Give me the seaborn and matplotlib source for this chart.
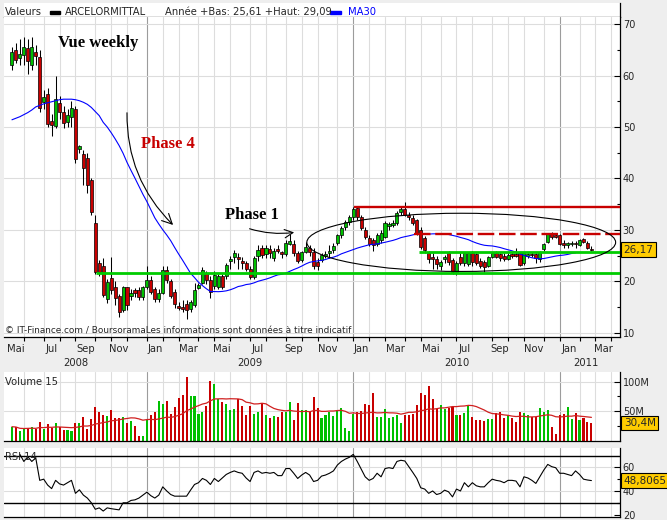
import numpy as np
import pandas as pd
import matplotlib
matplotlib.use("Agg")
import matplotlib.pyplot as plt
import matplotlib.transforms as mtransforms
from matplotlib.patches import Ellipse, Rectangle
import seaborn as sns

# weekly bars (ARCELORMITTAL, first bar = week of 12 May 2008)
first_week = "2008-05-12"
stock_name = "ARCELORMITTAL"
year_low, year_high = 25.61, 29.09

opens = [62.0, 65.0, 63.4, 64.0, 65.3, 62.0, 64.6, 63.6, 54.9, 56.4,
         51.2, 50.2, 54.7, 52.9, 51.0, 51.9, 53.5, 45.7, 44.8, 44.0,
         39.7, 31.4, 23.6, 23.0, 16.6, 20.7, 18.9, 17.2, 14.5, 18.9,
         17.2, 18.3, 18.3, 17.0, 18.9, 20.3, 18.5, 16.6, 17.8, 22.2,
         20.1, 18.0, 15.3, 15.0, 15.6, 14.7, 15.4, 18.8, 19.7, 21.6,
         20.3, 19.1, 19.0, 21.0, 21.1, 24.0, 24.8, 24.8, 24.0, 23.6,
         22.4, 20.9, 25.0, 26.5, 25.4, 26.4, 24.6, 26.3, 25.7, 25.3,
         27.3, 27.3, 25.5, 24.1, 25.7, 26.5, 25.7, 23.8, 24.2, 25.0,
         25.5, 26.1, 27.5, 29.0, 30.6, 31.6, 32.5, 34.3, 32.5, 30.0,
         28.4, 28.0, 27.3, 28.0, 28.6, 30.8, 31.0, 31.4, 33.5, 34.0,
         33.0, 32.3, 31.9, 30.0, 28.4, 25.5, 24.8, 24.4, 23.0, 24.4,
         25.5, 24.2, 21.8, 24.8, 23.6, 23.4, 25.5, 25.3, 24.0, 23.8,
         23.0, 24.8, 25.5, 25.3, 25.0, 24.4, 25.4, 25.4, 25.5, 23.6,
         25.0, 25.4, 25.3, 24.4, 26.3, 27.7, 29.2, 29.0, 29.0, 27.5,
         27.1, 27.2, 27.4, 27.1, 28.2, 27.5, 26.4]
highs = [65.5, 66.3, 67.0, 67.5, 67.0, 67.5, 66.0, 65.0, 57.2, 57.5,
         52.5, 60.0, 56.0, 54.0, 53.5, 55.0, 54.0, 46.6, 45.5, 45.0,
         40.0, 33.0, 24.2, 24.5, 20.5, 24.8, 20.0, 17.5, 19.2, 19.0,
         18.5, 18.8, 19.0, 19.2, 23.0, 21.0, 19.0, 18.5, 23.0, 23.0,
         20.5, 18.5, 16.0, 16.5, 16.5, 16.5, 19.7, 19.8, 22.8, 22.0,
         21.0, 22.0, 21.5, 21.5, 23.5, 25.0, 26.2, 25.5, 24.8, 24.0,
         23.0, 25.0, 27.0, 27.0, 27.0, 27.0, 26.5, 27.0, 26.0, 28.0,
         29.2, 28.0, 26.0, 26.0, 27.7, 27.0, 26.5, 24.5, 25.5, 26.0,
         27.0, 27.5, 29.3, 30.8, 32.0, 33.0, 34.5, 34.5, 33.0, 30.5,
         29.0, 28.5, 29.5, 30.0, 31.8, 31.6, 32.0, 33.6, 34.5, 35.4,
         33.5, 33.0, 32.2, 30.5, 28.8, 26.0, 25.5, 25.0, 24.2, 25.2,
         26.0, 24.5, 24.0, 25.5, 25.8, 25.8, 26.0, 25.6, 24.5, 24.2,
         25.0, 25.8, 26.0, 25.6, 25.5, 25.6, 25.8, 26.5, 25.8, 25.8,
         25.6, 25.8, 25.6, 26.0, 27.5, 29.5, 29.7, 29.3, 29.3, 28.0,
         27.7, 27.8, 27.8, 28.3, 28.5, 27.8, 26.8]
lows = [61.0, 62.5, 62.0, 62.0, 60.3, 61.0, 62.0, 53.0, 53.5, 50.0,
        48.3, 49.8, 51.5, 49.8, 50.0, 50.0, 43.0, 45.0, 38.7, 37.2,
        33.0, 21.5, 21.0, 17.0, 15.8, 17.5, 15.4, 13.1, 14.0, 14.5,
        16.5, 17.0, 16.5, 16.5, 18.5, 17.5, 16.0, 16.0, 17.5, 19.8,
        16.8, 14.9, 14.5, 14.0, 12.7, 14.0, 15.0, 18.5, 19.5, 19.5,
        16.8, 18.5, 18.5, 18.5, 20.5, 22.5, 23.5, 22.5, 22.5, 22.0,
        20.5, 20.5, 24.0, 24.5, 24.5, 24.5, 24.0, 25.5, 24.5, 25.0,
        27.0, 25.0, 23.5, 23.8, 25.5, 25.0, 22.5, 22.2, 23.8, 24.5,
        24.5, 25.5, 27.0, 28.5, 30.0, 31.0, 32.0, 32.0, 30.0, 28.2,
        26.8, 26.0, 26.8, 27.5, 28.4, 30.0, 30.5, 31.0, 33.0, 32.8,
        32.0, 31.0, 29.0, 26.3, 25.6, 23.5, 22.5, 22.5, 22.2, 23.5,
        23.2, 21.5, 21.2, 23.2, 23.0, 23.0, 23.0, 23.2, 22.6, 21.8,
        22.8, 24.5, 24.5, 24.0, 24.0, 24.2, 24.6, 24.8, 23.0, 23.2,
        24.5, 24.8, 23.5, 23.8, 26.0, 27.5, 28.3, 28.4, 27.0, 26.5,
        26.5, 26.8, 26.5, 26.8, 27.4, 26.3, 26.0]
closes = [64.5, 63.0, 64.2, 65.5, 62.8, 65.5, 63.8, 53.7, 55.8, 50.6,
          50.4, 55.4, 52.9, 50.8, 52.3, 53.7, 43.8, 46.3, 42.0, 38.7,
          33.5, 21.8, 21.8, 17.4, 19.9, 18.3, 16.8, 14.1, 18.9, 15.4,
          17.8, 17.8, 17.0, 18.9, 20.3, 18.0, 16.6, 17.8, 22.2, 20.3,
          17.2, 15.6, 14.9, 14.6, 14.5, 16.0, 18.3, 19.3, 22.2, 20.3,
          18.0, 21.2, 21.0, 19.0, 23.2, 24.4, 25.5, 24.4, 23.5, 22.4,
          20.9, 24.6, 26.1, 25.1, 26.5, 25.6, 25.9, 26.0, 25.3, 27.5,
          27.8, 25.5, 24.0, 25.7, 26.7, 25.8, 23.0, 23.0, 25.1, 25.3,
          26.0, 26.9, 29.0, 30.4, 31.6, 32.5, 34.1, 32.5, 30.4, 28.6,
          27.3, 27.0, 29.0, 29.4, 31.4, 31.2, 31.4, 33.3, 34.1, 33.0,
          32.6, 31.4, 29.4, 26.7, 26.1, 24.4, 24.4, 23.4, 23.8, 24.8,
          23.8, 21.8, 23.6, 23.5, 25.5, 25.5, 23.8, 23.6, 23.0, 22.9,
          24.8, 25.5, 24.8, 24.5, 24.4, 25.2, 25.0, 25.0, 23.2, 25.5,
          25.3, 25.1, 24.6, 25.7, 27.3, 29.2, 28.6, 28.7, 27.3, 27.1,
          27.5, 27.5, 27.2, 28.1, 27.7, 26.5, 26.17]
# volume in millions
volumes = [24, 23, 17, 20, 22, 23, 20, 32.5, 21, 28.5,
           22, 30, 23, 19, 18, 17, 30, 31, 41, 21,
           37, 57, 48, 44, 42, 52, 38, 39, 40, 31,
           33, 26, 8.5, 8.5, 36, 43, 49, 68, 62, 68,
           46, 57, 73, 77, 108, 75, 75, 46, 49, 59,
           101, 96, 70, 66, 62, 52, 54, 71, 59, 44,
           59, 46, 49, 64, 44, 39, 42, 40, 48, 49,
           65, 36, 64, 52, 52, 48, 74, 56, 38, 44,
           48, 42, 52, 55, 22, 17, 46, 49, 51, 63,
           60, 80, 41, 41, 53, 38, 41, 44, 31, 43,
           43, 46, 61, 80, 77, 92, 71, 54, 60, 54,
           55, 57, 43, 43, 47, 59, 40, 36, 36, 34,
           37, 37, 47, 49, 38, 44, 38, 32, 49, 47,
           44, 40, 40, 55, 49, 52, 24, 11, 43, 46,
           57, 37, 47, 35, 38, 32, 30.4]
# MA30 as drawn for the first weeks (history before the window is not shown)
ma30_head = [51.4, 51.7, 52.0, 52.4, 52.8, 53.3, 53.9, 54.2, 54.5, 54.7,
             54.9, 55.1, 55.3, 55.4, 55.4, 55.4, 55.3, 55.1, 54.8, 54.4,
             53.8, 53.0, 52.2, 50.9, 50.0, 48.9, 47.7, 46.4, 44.9]
ma30_last_week = 142
# RSI 14, starting at week 2
rsi_start = 2
rsi_values = [71, 65, 69, 65, 68, 49, 50, 45, 42, 49,
              46, 45, 47, 49, 38, 41, 36.5, 34, 30, 24.5,
              25.7, 23, 25.7, 25, 24.5, 24, 30, 30, 32, 32.5,
              34, 36.5, 39, 36, 34, 36.5, 43.5, 40, 37, 35.6,
              35.6, 35.6, 35.6, 40.7, 45.5, 47, 50.6, 49, 45.5, 50.6,
              48, 51, 54, 55.7, 57, 55.7, 55, 51, 48, 55.7,
              57, 55, 55.7, 55, 55.7, 53, 53, 59, 59, 55,
              50.6, 53.5, 55.7, 53.5, 48, 49, 52.6, 53.5, 55, 57,
              62, 65, 67, 68.5, 71, 65, 58.6, 52, 49, 50.6,
              55, 52, 59, 59.7, 59, 65, 66, 65.4, 60.6, 55.7,
              50.6, 42.7, 41.6, 38, 40, 37, 38, 40.7, 39.3, 35,
              41.6, 40, 47, 43.5, 47, 44.4, 43.5, 43.5, 47, 50,
              49, 48.4, 47, 49, 49, 48.4, 43.5, 52, 51, 49,
              46.4, 52, 57.7, 62.5, 60.6, 59.7, 55, 55, 54, 53,
              57, 54, 50, 49.3, 48.8065]

# drawn levels
support_low, support_low_from = 21.7, 21.2
support_high, support_high_from = 25.8, 102.5
resist_high, resist_high_from = 34.55, 86.1
resist_low, resist_low_from = 29.3, 101.3

df = pd.DataFrame({"open": opens, "high": highs, "low": lows,
                   "close": closes, "volume": volumes})
df["week"] = np.arange(len(df))
df["date"] = pd.date_range(first_week, periods=len(df), freq="7D")
df["up"] = df["close"] >= df["open"]
ma = df["close"].rolling(30).mean()
ma.iloc[:len(ma30_head)] = ma30_head
df["ma30"] = ma
df["vol_ma"] = df["volume"].rolling(15, min_periods=1).mean()
df["rsi"] = np.nan
df.loc[rsi_start:, "rsi"] = rsi_values

GREEN = "#00c000"
RED = "#c80000"
LINE_GREEN = "#00cc00"
GRID = "#dddddd"
colors = np.where(df["up"], GREEN, RED)

sns.set_theme(style="white")
plt.rcParams["font.family"] = ["DejaVu Sans"]

W, H = 667, 520


def panel(top, bottom, left=4, right=620):
    return [left / W, 1 - bottom / H, (right - left) / W, (bottom - top) / H]


fig = plt.figure(figsize=(W / 100, H / 100), dpi=100, facecolor="#eeeeee")
ax_head = fig.add_axes(panel(3, 17))
ax = fig.add_axes(panel(17, 337))
ax_vol = fig.add_axes(panel(372, 441))
ax_rsi = fig.add_axes(panel(448, 517))

XLIM = (-2.0, 153.2)
for a in (ax_head, ax, ax_vol, ax_rsi):
    a.set_facecolor("white")
    for s in ("top", "left"):
        a.spines[s].set_visible(False)
    for s in ("bottom", "right"):
        a.spines[s].set_color("black")
        a.spines[s].set_linewidth(0.9)
for a in (ax, ax_vol, ax_rsi):
    a.set_xlim(*XLIM)

# month grid: first weekly bar of every month
d0 = df["date"].iloc[0]
months = pd.date_range("2008-05-01", "2011-05-01", freq="MS")
month_pos = np.ceil(np.asarray((months - d0).days) / 7)
in_view = (month_pos >= 0) & (month_pos <= XLIM[1])
for a in (ax, ax_vol, ax_rsi):
    for m, p in zip(months[in_view], month_pos[in_view]):
        a.axvline(p, color="#9c9c9c" if m.month == 1 else GRID, lw=0.8, zorder=0)

# ---- price panel ----
for v in range(10, 71, 10):
    ax.axhline(v, color=GRID, lw=0.8, zorder=0)
ax.vlines(df["week"], df["low"], df["high"], color="black", lw=0.75, zorder=3)
body_low = df[["open", "close"]].min(axis=1)
body_h = (df["close"] - df["open"]).abs().clip(lower=0.2)
ax.bar(df["week"], body_h, bottom=body_low, width=0.78, color=colors,
       edgecolor="black", linewidth=0.5, zorder=4)
sns.lineplot(data=df[df["week"] <= ma30_last_week], x="week", y="ma30",
             color="#0000ff", lw=0.8, ax=ax, zorder=5)

ax.hlines(support_low, support_low_from, XLIM[1], color=LINE_GREEN, lw=2.0, zorder=6)
ax.hlines(support_high, support_high_from, XLIM[1], color=LINE_GREEN, lw=2.0, zorder=6)
ax.hlines(resist_high, resist_high_from, XLIM[1], color=RED, lw=1.7, zorder=6)
ax.hlines(resist_low, resist_low_from, XLIM[1], color=RED, lw=1.7,
          linestyles=(0, (7, 2)), zorder=6)
ax.add_patch(Ellipse((113.2, 27.6), 77.8, 11.3, fill=False, ec="black", lw=0.8, zorder=7))

serif = dict(family="Liberation Serif", weight="bold", fontsize=12)
ax.text(11.6, 65.6, "Vue weekly", color="black", va="baseline", **serif)
ax.text(32.5, 46.0, "Phase 4", color="#c80000", va="baseline", **serif)
ax.text(53.6, 32.1, "Phase 1", color="black", va="baseline", **serif)
ax.annotate("", xy=(41.1, 30.6), xytext=(29.0, 53.3),
            arrowprops=dict(arrowstyle="->,head_length=0.6,head_width=0.3",
                            connectionstyle="arc3,rad=0.22", color="black", lw=0.8))
ax.annotate("", xy=(71.8, 29.6), xytext=(59.2, 30.4),
            arrowprops=dict(arrowstyle="->,head_length=0.5,head_width=0.25",
                            connectionstyle="arc3,rad=0.12", color="black", lw=0.8))
ax.text(0.002, 0.012, "© IT-Finance.com / BoursoramaLes informations sont données à titre indicatif",
        transform=ax.transAxes, fontsize=6.4, va="baseline", ha="left", zorder=8)

ax.set_ylim(9.22, 71.36)
ax.set_xlabel("")
ax.set_ylabel("")
ax.yaxis.tick_right()
ax.set_yticks(range(10, 71, 10))
ax.set_yticks(range(15, 71, 10), minor=True)
ax.tick_params(axis="y", which="both", direction="in", right=True, left=False,
               labelsize=7, pad=2, width=0.8, color="black")
ax.tick_params(axis="y", which="major", length=4)
ax.tick_params(axis="y", which="minor", length=2.5)
ax.set_xticks(month_pos[in_view])
ax.set_xticklabels([])
ax.tick_params(axis="x", bottom=True, direction="out", length=3, width=0.8, color="black")

fr_abbr = {1: "Jan", 3: "Mar", 5: "Mai", 7: "Jul", 9: "Sep", 11: "Nov"}
trx = mtransforms.blended_transform_factory(ax.transData, ax.transAxes)
for k in range(len(months) - 1):
    m = months[k]
    if m.month in fr_abbr:
        xm = (month_pos[k] + month_pos[k + 1]) / 2
        if XLIM[0] < xm < XLIM[1]:
            ax.text(xm, -0.038, fr_abbr[m.month], transform=trx, ha="center",
                    va="center", fontsize=7.2)
jan_pos = {m.year: p for m, p in zip(months, month_pos) if m.month == 1}
last_grid = month_pos[in_view].max()
for year in range(2008, 2012):
    left = max(XLIM[0], jan_pos.get(year, XLIM[0]))
    right = min(jan_pos.get(year + 1, last_grid), last_grid)
    ax.text((left + right) / 2, -0.082, str(year), transform=trx, ha="center",
            va="center", fontsize=7.2)


def value_box(a, y, text):
    tr = mtransforms.blended_transform_factory(a.transAxes, a.transData)
    a.text(1.006, y, text, transform=tr, ha="left", va="center", fontsize=7.5,
           bbox=dict(boxstyle="square,pad=0.22", fc="#ffcc00", ec="black", lw=0.8),
           zorder=10, clip_on=False)


value_box(ax, closes[-1], f"{closes[-1]:.2f}".replace(".", ","))

# ---- volume panel ----
for v in (50, 100):
    ax_vol.axhline(v, color=GRID, lw=0.8, zorder=0)
ax_vol.bar(df["week"], df["volume"], width=0.52, color=colors, linewidth=0,
           antialiased=False, zorder=2)
sns.lineplot(data=df, x="week", y="vol_ma", ax=ax_vol, color="#d02020", lw=0.9, zorder=3)
ax_vol.set_ylim(0, 116)
ax_vol.set_xlabel("")
ax_vol.set_ylabel("")
ax_vol.set_xticks([])
ax_vol.yaxis.tick_right()
ax_vol.set_yticks([50, 100])
ax_vol.set_yticklabels(["50M", "100M"])
ax_vol.set_yticks([25, 75], minor=True)
ax_vol.tick_params(axis="y", which="both", direction="in", right=True, left=False,
                   labelsize=7, pad=2, width=0.8, color="black")
ax_vol.tick_params(axis="y", which="major", length=4)
ax_vol.tick_params(axis="y", which="minor", length=2.5)
ax_vol.text(0.002, 0.855, "Volume 15", transform=ax_vol.transAxes, fontsize=7.2,
            va="center", ha="left")
value_box(ax_vol, volumes[-1], f"{volumes[-1]:.1f}M".replace(".", ","))

# ---- RSI panel ----
for v in (40, 60):
    ax_rsi.axhline(v, color=GRID, lw=0.8, zorder=0)
for v in (30, 70):
    ax_rsi.axhline(v, color="black", lw=1.0, zorder=1)
sns.lineplot(data=df, x="week", y="rsi", ax=ax_rsi, color="black", lw=0.8, zorder=3)
ax_rsi.set_ylim(17.96, 76.4)
ax_rsi.set_xlabel("")
ax_rsi.set_ylabel("")
ax_rsi.set_xticks([])
ax_rsi.yaxis.tick_right()
ax_rsi.set_yticks([20, 40, 60])
ax_rsi.set_yticks([30, 50], minor=True)
ax_rsi.tick_params(axis="y", which="both", direction="in", right=True, left=False,
                   labelsize=7, pad=2, width=0.8, color="black")
ax_rsi.tick_params(axis="y", which="major", length=4)
ax_rsi.tick_params(axis="y", which="minor", length=2.5)
ax_rsi.text(0.002, 0.874, "RSI 14", transform=ax_rsi.transAxes, fontsize=7.2,
            va="center", ha="left")
value_box(ax_rsi, rsi_values[-1], f"{rsi_values[-1]:.4f}".replace(".", ","))

# ---- header strip ----
ax_head.set_xlim(0, 1)
ax_head.set_ylim(0, 1)
ax_head.set_xticks([])
ax_head.set_yticks([])


def hx(px):
    return (px - 4) / 616


hdr = dict(transform=ax_head.transAxes, fontsize=7.2, va="baseline", ha="left")
ax_head.text(hx(5), 0.14, "Valeurs", **hdr)
ax_head.add_patch(Rectangle((hx(50), 0.24), hx(60) - hx(50), 0.2,
                            transform=ax_head.transAxes, color="black"))
ax_head.text(hx(65), 0.14, stock_name, **hdr)
ax_head.text(hx(165), 0.14,
             f"Année +Bas: {year_low:.2f} +Haut: {year_high:.2f}".replace(".", ","), **hdr)
ax_head.add_patch(Rectangle((hx(330), 0.24), hx(341) - hx(330), 0.2,
                            transform=ax_head.transAxes, color="#0000ff"))
ax_head.text(hx(348), 0.14, "MA30", color="#0000ff", **hdr)

fig.savefig("out.png", dpi=100, facecolor=fig.get_facecolor())
